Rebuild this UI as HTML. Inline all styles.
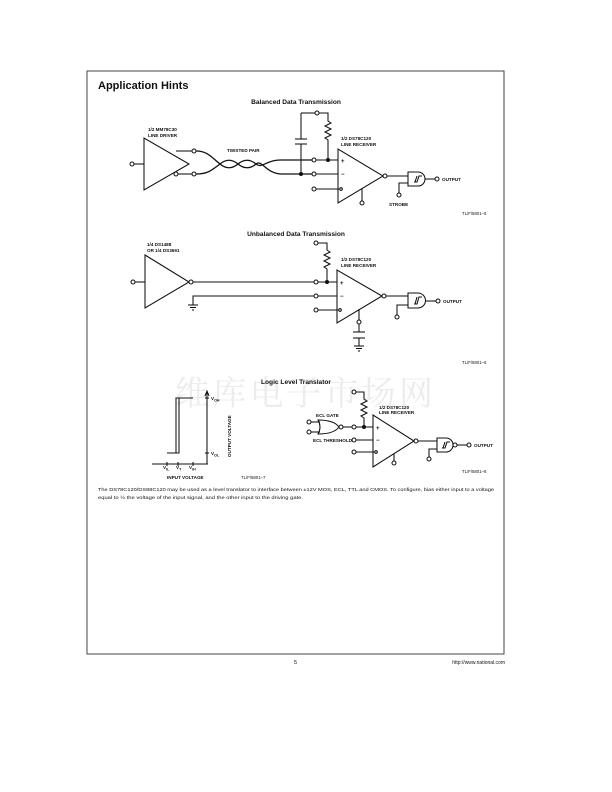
<!DOCTYPE html>
<html><head><meta charset="utf-8"><style>
html,body{margin:0;padding:0;background:#fff;}
svg{display:block;}
text{font-family:"Liberation Sans",Arial,sans-serif;fill:#111;}
.s{font-size:4.6px;font-weight:bold;}
.t{font-size:4.3px;}
</style></head><body>
<svg width="612" height="792" viewBox="0 0 612 792" xmlns="http://www.w3.org/2000/svg">
<!-- watermark -->
<text x="175" y="405" style="font-size:34px;fill:#ececec;font-family:'Noto Serif CJK SC','Noto Sans CJK SC',serif" textLength="258" lengthAdjust="spacing">维库电子市场网</text>
<g fill="none" stroke="#222" stroke-width="0.9">
<rect x="87" y="71" width="417" height="583" stroke="#444" stroke-width="1"/>
</g>
<text x="98" y="89" style="font-size:11px;font-weight:bold">Application Hints</text>
<text x="296" y="104" text-anchor="middle" style="font-size:6.6px;font-weight:bold">Balanced Data Transmission</text>
<text x="296" y="236" text-anchor="middle" style="font-size:6.6px;font-weight:bold">Unbalanced Data Transmission</text>
<text x="296" y="384" text-anchor="middle" style="font-size:6.6px;font-weight:bold">Logic Level Translator</text>

<g fill="none" stroke="#111" stroke-width="1.05">
<!-- ===== Balanced ===== -->
<polygon points="144,138 144,190 189,164"/>
<line x1="134" y1="164" x2="144" y2="164"/><circle cx="132" cy="164" r="2" fill="#fff"/>
<line x1="176" y1="151" x2="192" y2="151"/><circle cx="194" cy="151" r="2" fill="#fff"/>
<line x1="178" y1="174" x2="192" y2="174"/><circle cx="176" cy="174" r="2" fill="#fff"/><circle cx="194" cy="174" r="2" fill="#fff"/>
<path d="M196,151 C208,151 212,158 220,164 C226,169 232,169 238,164 C244,159 250,159 256,164 C262,169 266,160 280,160 L312,160" stroke-width="1.3"/>
<path d="M196,174 C208,174 212,170 220,164 C226,159 232,159 238,164 C244,169 250,169 256,164 C262,159 266,174 282,174 L312,174" stroke-width="1.3"/>
<circle cx="314" cy="160" r="2" fill="#fff"/><circle cx="314" cy="174" r="2" fill="#fff"/>
<line x1="316" y1="160" x2="338" y2="160"/><line x1="316" y1="174" x2="338" y2="174"/>
<line x1="301" y1="113" x2="301" y2="139"/><line x1="295" y1="139" x2="307" y2="139"/><line x1="295" y1="144" x2="307" y2="144"/><line x1="301" y1="144" x2="301" y2="174"/>
<line x1="301" y1="113" x2="315" y2="113"/><circle cx="317" cy="113" r="2" fill="#fff"/>
<path d="M319,113 L328,113 L328,121 L331,123 L325,126 L331,129 L325,132 L331,135 L325,138 L328,140 L328,160"/>
<circle cx="301" cy="174" r="1.5" fill="#111"/><circle cx="328" cy="160" r="1.5" fill="#111"/>
<polygon points="338,149 338,203 383,176"/>
<line x1="316" y1="189" x2="339" y2="189"/><circle cx="314" cy="189" r="2" fill="#fff"/><circle cx="341" cy="189" r="1.3" fill="#fff"/>
<line x1="362" y1="189" x2="362" y2="201"/><circle cx="362" cy="203" r="2" fill="#fff"/>
<circle cx="385" cy="176" r="2" fill="#fff"/>
<path d="M387,176 L408,176"/>
<path d="M408,172 L418,172 A7,7 0 0 1 418,186 L408,186 Z"/>
<path d="M414,182 L417,182 L419,176 L422,176 M415,182 L417,176"/>
<line x1="425" y1="179" x2="435" y2="179"/><circle cx="437" cy="179" r="2" fill="#fff"/>
<path d="M408,183 L399,183 L399,193"/><circle cx="399" cy="195" r="2" fill="#fff"/>

<!-- ===== Unbalanced ===== -->
<polygon points="145,255 145,308 189,282"/>
<line x1="135" y1="282" x2="145" y2="282"/><circle cx="133" cy="282" r="2" fill="#fff"/>
<circle cx="191" cy="282" r="2" fill="#fff"/>
<line x1="193" y1="282" x2="314" y2="282"/><circle cx="316" cy="282" r="2" fill="#fff"/>
<path d="M314,296 L193,296 L193,305"/><line x1="188" y1="305" x2="198" y2="305"/><line x1="190" y1="307.5" x2="196" y2="307.5"/><line x1="192" y1="310" x2="194" y2="310"/>
<circle cx="316" cy="296" r="2" fill="#fff"/><circle cx="316" cy="310" r="2" fill="#fff"/>
<circle cx="316" cy="243" r="2" fill="#fff"/>
<path d="M318,243 L327,243 L327,250 L330,252 L324,255 L330,258 L324,261 L330,264 L324,267 L327,269 L327,282"/>
<circle cx="327" cy="282" r="1.5" fill="#111"/>
<line x1="318" y1="282" x2="337" y2="282"/><line x1="318" y1="296" x2="337" y2="296"/><line x1="318" y1="310" x2="338" y2="310"/>
<polygon points="337,270 337,323 382,296"/><circle cx="340" cy="310" r="1.3" fill="#fff"/>
<line x1="359" y1="309" x2="359" y2="320"/><circle cx="359" cy="322" r="2" fill="#fff"/>
<line x1="359" y1="324" x2="359" y2="332"/><line x1="353" y1="332" x2="365" y2="332"/><line x1="353" y1="338" x2="365" y2="338"/><line x1="359" y1="338" x2="359" y2="346"/>
<line x1="354" y1="346" x2="364" y2="346"/><line x1="356" y1="348.5" x2="362" y2="348.5"/><line x1="358" y1="351" x2="360" y2="351"/>
<circle cx="384" cy="296" r="2" fill="#fff"/>
<path d="M386,296 L408,296"/>
<path d="M408,293 L418,293 A7.5,7.5 0 0 1 418,308 L408,308 Z"/>
<path d="M414,304 L417,304 L419,297 L422,297 M415,304 L417,297"/>
<line x1="425.5" y1="301" x2="436" y2="301"/><circle cx="438" cy="301" r="2" fill="#fff"/>
<path d="M408,305 L397,305 L397,315"/><circle cx="397" cy="317" r="2" fill="#fff"/>

<!-- ===== Logic level graph ===== -->
<line x1="207" y1="392" x2="207" y2="464"/><path d="M205,396 L207,391 L209,396"/>
<line x1="152" y1="464" x2="208" y2="464"/>
<path d="M167,453 L179,453 L179,398 L193,398 M176,453 L176,398 L179,398"/>
<line x1="167" y1="462" x2="167" y2="466"/><line x1="178" y1="462" x2="178" y2="466"/><line x1="193" y1="462" x2="193" y2="466"/>
<line x1="205" y1="398" x2="209" y2="398"/><line x1="205" y1="453" x2="209" y2="453"/>

<!-- ===== Logic level circuit ===== -->
<circle cx="354" cy="392" r="2" fill="#fff"/>
<path d="M356,392 L364,392 L364,399 L367,401 L361,404 L367,407 L361,410 L367,413 L361,416 L364,418 L364,427"/>
<path d="M318,420 Q334,420 339,427 Q334,434 318,434 Q322,427 318,420 Z"/>
<circle cx="309" cy="422" r="2" fill="#fff"/><circle cx="309" cy="432" r="2" fill="#fff"/>
<line x1="311" y1="422" x2="320" y2="422"/><line x1="311" y1="432" x2="320" y2="432"/>
<circle cx="341" cy="427" r="2" fill="#fff"/><line x1="343" y1="427" x2="352" y2="427"/><circle cx="354" cy="427" r="2" fill="#fff"/>
<line x1="356" y1="427" x2="373" y2="427"/><circle cx="364" cy="427" r="1.5" fill="#111"/>
<circle cx="354" cy="440" r="2" fill="#fff"/><line x1="356" y1="440" x2="373" y2="440"/>
<circle cx="354" cy="452" r="2" fill="#fff"/><line x1="356" y1="452" x2="374" y2="452"/>
<polygon points="373,415 373,467 414,441"/><circle cx="376" cy="452" r="1.3" fill="#fff"/>
<line x1="394" y1="454" x2="394" y2="461"/><circle cx="394" cy="463" r="2" fill="#fff"/>
<circle cx="416" cy="441" r="2" fill="#fff"/><line x1="418" y1="441" x2="437" y2="441"/>
<path d="M437,438 L446,438 A7,7 0 0 1 446,452 L437,452 Z"/>
<path d="M442,448 L445,448 L447,442 L450,442 M443,448 L445,442"/>
<circle cx="455" cy="445" r="2" fill="#fff"/><line x1="457" y1="445" x2="467" y2="445"/><circle cx="469" cy="445" r="2" fill="#fff"/>
<path d="M437,449 L429,449 L429,457"/><circle cx="429" cy="459" r="2" fill="#fff"/>
</g>

<!-- labels -->
<text class="s" x="148" y="131">1/2 MM78C30</text><text class="s" x="148" y="137">LINE DRIVER</text>
<text class="s" x="227" y="152">TWISTED PAIR</text>
<text class="s" x="341" y="140">1/2 DS78C120</text><text class="s" x="341" y="146">LINE RECEIVER</text>
<text class="s" x="341" y="163" style="font-size:6px">+</text><text class="s" x="341" y="176" style="font-size:6px">−</text>
<text class="s" x="442" y="181">OUTPUT</text>
<text class="s" x="389" y="206">STROBE</text>
<text class="t" x="462" y="215">TL/F/5801–5</text>

<text class="s" x="147" y="246">1/4 DS1488</text><text class="s" x="147" y="252">OR 1/4 DS3691</text>
<text class="s" x="341" y="261">1/2 DS78C120</text><text class="s" x="341" y="267">LINE RECEIVER</text>
<text class="s" x="340" y="285" style="font-size:6px">+</text><text class="s" x="340" y="298" style="font-size:6px">−</text>
<text class="s" x="443" y="303">OUTPUT</text>
<text class="t" x="462" y="364">TL/F/5801–6</text>

<text class="s" x="211" y="400">V<tspan dy="1.5" style="font-size:3.6px">OH</tspan></text>
<text class="s" x="211" y="455">V<tspan dy="1.5" style="font-size:3.6px">OL</tspan></text>
<text class="s" x="163" y="469">V<tspan dy="1.5" style="font-size:3.6px">IL</tspan></text>
<text class="s" x="176" y="469">V<tspan dy="1.5" style="font-size:3.6px">T</tspan></text>
<text class="s" x="189" y="469">V<tspan dy="1.5" style="font-size:3.6px">IH</tspan></text>
<text class="s" x="167" y="479">INPUT VOLTAGE</text>
<text class="s" transform="translate(231,457) rotate(-90)">OUTPUT VOLTAGE</text>
<text class="t" x="241" y="479">TL/F/5801–7</text>

<text class="s" x="316" y="417">ECL GATE</text>
<text class="s" x="379" y="409">1/2 DS78C120</text><text class="s" x="379" y="414">LINE RECEIVER</text>
<text class="s" x="376" y="430" style="font-size:6px">+</text><text class="s" x="376" y="442" style="font-size:6px">−</text>
<text class="s" x="313" y="442">ECL THRESHOLD</text>
<text class="s" x="474" y="447">OUTPUT</text>
<text class="t" x="462" y="473">TL/F/5801–8</text>

<text x="98" y="491" style="font-size:4.6px" textLength="396" lengthAdjust="spacingAndGlyphs">The DS78C120/DS88C120 may be used as a level translator to interface between ±12V MOS, ECL, TTL and CMOS. To configure, bias either input to a voltage</text>
<text x="98" y="499" style="font-size:4.6px" textLength="205" lengthAdjust="spacingAndGlyphs">equal to ½ the voltage of the input signal, and the other input to the driving gate.</text>

<text x="294" y="664" style="font-size:5.5px">5</text>
<text x="505" y="664" text-anchor="end" style="font-size:5px">http://www.national.com</text>
</svg>
</body></html>
